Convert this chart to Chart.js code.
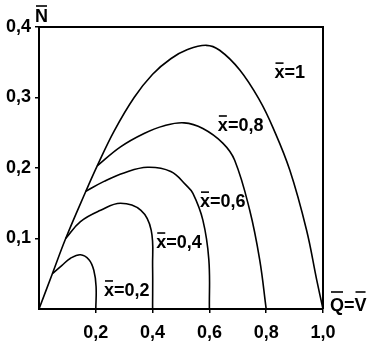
<!DOCTYPE html>
<html>
<head>
<meta charset="utf-8">
<script src="https://cdn.jsdelivr.net/npm/chart.js@4/dist/chart.umd.min.js"></script>
<style>
  html, body { margin: 0; padding: 0; background: #fff; }
  #wrap { width: 375px; height: 346px; position: relative; }
</style>
</head>
<body>
<div id="wrap"><canvas id="chart"></canvas></div>
<script>
// Q = V (x axis) and N (y axis).
// The x=1 curve carries the shared rising edge from the origin;
// the other curves start where they leave it.
const q10 = [0, 0.047, 0.094, 0.165, 0.205, 0.264, 0.335, 0.400, 0.464, 0.523, 0.589, 0.636, 0.707, 0.777, 0.823, 0.883, 0.942, 0.978, 1.0];
const n10 = [0, 0.050, 0.100, 0.167, 0.203, 0.252, 0.300, 0.333, 0.355, 0.368, 0.374, 0.367, 0.339, 0.296, 0.258, 0.197, 0.112, 0.041, 0];

const q02 = [0.047, 0.081, 0.111, 0.146, 0.176, 0.193, 0.201, 0.2];
const n02 = [0.050, 0.062, 0.072, 0.077, 0.070, 0.055, 0.032, 0];

const q04 = [0.094, 0.146, 0.217, 0.287, 0.359, 0.395, 0.4, 0.4];
const n04 = [0.100, 0.124, 0.140, 0.150, 0.140, 0.112, 0.06, 0];

const q06 = [0.165, 0.229, 0.299, 0.382, 0.464, 0.517, 0.542, 0.577, 0.598, 0.6];
const n06 = [0.167, 0.181, 0.193, 0.201, 0.195, 0.176, 0.164, 0.126, 0.07, 0];

const q08 = [0.205, 0.287, 0.370, 0.441, 0.511, 0.577, 0.648, 0.689, 0.742, 0.777, 0.8];
const n08 = [0.203, 0.230, 0.249, 0.260, 0.264, 0.256, 0.235, 0.211, 0.140, 0.07, 0];

const curveNames = ["x=0,2", "x=0,4", "x=0,6", "x=0,8", "x=1"];
const xTicks = [0.2, 0.4, 0.6, 0.8, 1.0];
const yTicks = [0.1, 0.2, 0.3, 0.4];

const font = '"Liberation Sans", Arial, sans-serif';

function pts(qs, ns) {
  return qs.map((q, i) => ({ x: q, y: ns[i] }));
}

// text with an overline above some of its characters
function barText(ctx, text, x, y, bars, barRise) {
  ctx.fillText(text, x, y);
  ctx.save();
  ctx.lineWidth = 1.6;
  ctx.strokeStyle = "#000";
  bars.forEach(i => {
    const x0 = x + ctx.measureText(text.slice(0, i)).width;
    const w = ctx.measureText(text[i]).width;
    ctx.beginPath();
    ctx.moveTo(x0 + 1, y - barRise);
    ctx.lineTo(x0 + w - 1, y - barRise);
    ctx.stroke();
  });
  ctx.restore();
}

const drawExtras = {
  id: "extras",
  afterDraw(chart) {
    const { ctx, chartArea: a, scales } = chart;
    ctx.save();
    // frame top and right
    ctx.strokeStyle = "#000";
    ctx.lineWidth = 2;
    ctx.beginPath();
    ctx.moveTo(a.left, a.top);
    ctx.lineTo(a.right, a.top);
    ctx.lineTo(a.right, a.bottom);
    ctx.stroke();

    ctx.fillStyle = "#000";
    ctx.font = "bold 18px " + font;
    ctx.textBaseline = "alphabetic";

    // curve labels, anchored in data units
    const anchors = [[0.309, 0.027], [0.493, 0.095], [0.647, 0.153], [0.71, 0.261], [0.883, 0.336]];
    curveNames.forEach((t, i) => {
      const w = ctx.measureText(t).width;
      const px = scales.x.getPixelForValue(anchors[i][0]) - w / 2;
      const py = scales.y.getPixelForValue(anchors[i][1]) + 6;
      barText(ctx, t, px, py, [0], 15);
    });

    // axis titles
    barText(ctx, "N", a.left - 4, 22, [0], 16);
    barText(ctx, "Q=V", a.right + 7, 311, [0, 2], 19);
    ctx.restore();
  }
};

const tickColor = c => (c.tick && c.tick.value === 0 ? "rgba(0,0,0,0)" : "#000");

new Chart(document.getElementById("chart"), {
  type: "scatter",
  data: {
    datasets: [
      { label: curveNames[0], data: pts(q02, n02) },
      { label: curveNames[1], data: pts(q04, n04) },
      { label: curveNames[2], data: pts(q06, n06) },
      { label: curveNames[3], data: pts(q08, n08) },
      { label: curveNames[4], data: pts(q10, n10) },
    ].map(d => Object.assign(d, {
      showLine: true,
      borderColor: "#000",
      borderWidth: 1.6,
      pointRadius: 0,
      tension: 0.4,
      fill: false,
    })),
  },
  options: {
    responsive: true,
    maintainAspectRatio: false,
    animation: false,
    layout: { padding: { top: 27, right: 52, bottom: 0, left: 0 } },
    plugins: { legend: { display: false }, tooltip: { enabled: false } },
    scales: {
      x: {
        type: "linear",
        min: 0,
        max: 1,
        afterFit: s => { s.height = 37; },
        afterBuildTicks: s => { s.ticks = [0].concat(xTicks).map(v => ({ value: v })); },
        grid: { drawOnChartArea: false, drawTicks: true, tickLength: 4, color: tickColor, lineWidth: 1.5 },
        border: { display: true, color: "#000", width: 2 },
        ticks: {
          padding: 9,
          color: "#000",
          font: { family: font, size: 18, weight: "bold" },
          callback: v => (v === 0 ? "" : v.toFixed(1).replace(".", ",")),
        },
      },
      y: {
        type: "linear",
        min: 0,
        max: 0.4,
        afterFit: s => { s.width = 39; },
        afterBuildTicks: s => { s.ticks = [0].concat(yTicks).map(v => ({ value: v })); },
        grid: { drawOnChartArea: false, drawTicks: true, tickLength: 4, color: tickColor, lineWidth: 1.5 },
        border: { display: true, color: "#000", width: 2 },
        ticks: {
          padding: 4,
          color: "#000",
          font: { family: font, size: 18, weight: "bold" },
          callback: v => (v === 0 ? "" : v.toFixed(1).replace(".", ",")),
        },
      },
    },
  },
  plugins: [drawExtras],
});
</script>
</body>
</html>
